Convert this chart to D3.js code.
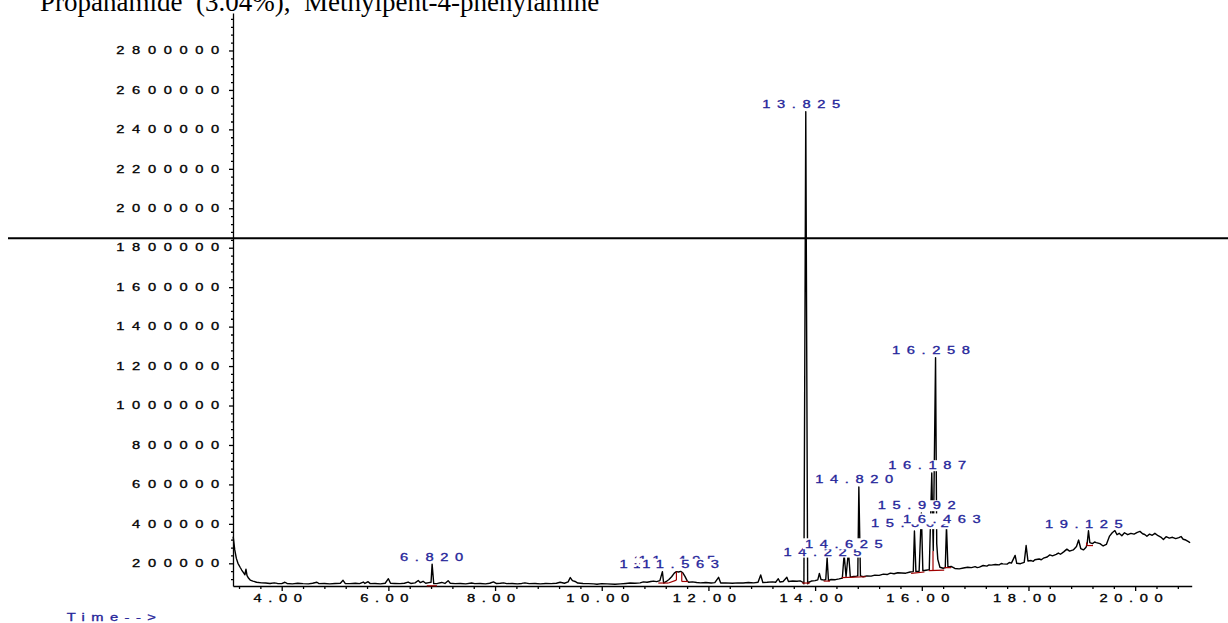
<!DOCTYPE html>
<html><head><meta charset="utf-8">
<script src="https://cdn.jsdelivr.net/npm/d3@7"></script>
<style>html,body{margin:0;padding:0;background:#fff;} svg{display:block}</style>
</head><body>
<svg id="c" width="1228" height="623"></svg>
<script>
// ---- data ----
const titleText = "Propanamide  (3.04%),  Methylpent-4-phenylamine";
const traceTime = [3.09,3.12,3.15,3.18,3.22,3.25,3.29,3.31,3.33,3.35,3.38,3.41,3.46,3.53,3.62,3.70,3.78,3.86,3.92,4.00,4.06,4.10,4.20,4.30,4.40,4.50,4.58,4.66,4.70,4.80,4.90,5.00,5.10,5.15,5.19,5.28,5.38,5.46,5.53,5.56,5.62,5.66,5.75,5.85,5.94,6.00,6.04,6.12,6.22,6.30,6.37,6.42,6.50,6.56,6.60,6.65,6.70,6.76,6.80,6.82,6.85,6.92,7.00,7.06,7.12,7.16,7.25,7.35,7.45,7.56,7.62,7.72,7.82,7.90,7.97,8.02,8.10,8.16,8.22,8.32,8.42,8.50,8.56,8.64,8.75,8.85,8.95,9.05,9.15,9.22,9.30,9.37,9.41,9.45,9.50,9.55,9.65,9.75,9.85,9.91,10.00,10.10,10.25,10.35,10.45,10.53,10.62,10.72,10.78,10.85,10.92,10.97,11.03,11.09,11.137,11.16,11.21,11.26,11.31,11.36,11.40,11.44,11.48,11.52,11.56,11.60,11.63,11.70,11.78,11.85,11.95,12.05,12.12,12.19,12.23,12.32,12.45,12.55,12.65,12.75,12.85,12.93,12.98,13.02,13.10,13.20,13.26,13.31,13.34,13.40,13.47,13.50,13.58,13.66,13.72,13.77,13.79,13.825,13.86,13.88,13.93,14.00,14.05,14.08,14.11,14.17,14.20,14.225,14.25,14.30,14.38,14.45,14.51,14.544,14.58,14.625,14.66,14.72,14.78,14.80,14.82,14.85,14.90,14.97,15.05,15.12,15.20,15.28,15.35,15.41,15.48,15.55,15.62,15.70,15.78,15.84,15.862,15.89,15.95,15.992,16.02,16.08,16.14,16.187,16.215,16.258,16.28,16.30,16.34,16.40,16.44,16.463,16.49,16.55,16.62,16.70,16.78,16.86,16.93,17.00,17.04,17.08,17.15,17.22,17.26,17.30,17.38,17.45,17.49,17.52,17.60,17.64,17.68,17.75,17.78,17.85,17.92,17.956,17.99,18.05,18.09,18.12,18.20,18.24,18.28,18.35,18.40,18.45,18.52,18.56,18.60,18.66,18.72,18.77,18.84,18.90,18.94,18.98,19.03,19.08,19.10,19.125,19.15,19.20,19.24,19.27,19.34,19.40,19.46,19.52,19.57,19.62,19.66,19.70,19.75,19.80,19.86,19.92,19.98,20.04,20.09,20.14,20.18,20.22,20.27,20.32,20.37,20.43,20.48,20.53,20.58,20.64,20.70,20.76,20.82,20.86,20.90,20.95,21.00,21.03];
const traceAbund = [335000,268000,225000,200000,180000,166000,150000,142000,170000,138000,124000,115000,110000,104000,101000,100000,98000,101000,98000,97000,104000,98000,96000,99000,97000,96000,99000,104000,97000,98000,96000,98000,99000,114000,98000,97000,99000,97000,105000,98000,107000,97000,98000,96000,99000,122000,99000,98000,97000,99000,105000,98000,101000,113000,102000,109000,99000,102000,104000,196000,97000,98000,103000,98000,112000,99000,97000,98000,96000,100000,97000,98000,96000,99000,106000,98000,99000,101000,97000,98000,96000,98000,101000,97000,98000,96000,98000,97000,99000,104000,99000,106000,128000,112000,108000,100000,98000,97000,96000,94000,97000,96000,94000,96000,98000,100000,99000,101000,106000,104000,108000,110000,107000,112000,158000,100000,108000,118000,132000,150000,158000,156000,159000,152000,134000,112000,104000,106000,103000,101000,103000,100000,102000,129000,100000,101000,99000,101000,100000,103000,101000,104000,141000,103000,104000,106000,104000,122000,105000,108000,129000,108000,110000,109000,111000,104000,96000,2490000,96000,104000,110000,112000,116000,149000,118000,115000,118000,228000,113000,118000,117000,121000,125000,245000,132000,262000,130000,133000,135000,137000,587000,136000,132000,136000,135000,140000,139000,145000,143000,150000,147000,152000,151000,150000,156000,158000,364000,158000,160000,455000,162000,165000,168000,658000,265000,1243000,300000,220000,180000,175000,178000,389000,180000,184000,174000,172000,176000,180000,178000,183000,178000,181000,189000,186000,192000,191000,194000,192000,199000,197000,196000,204000,201000,240000,200000,198000,205000,290000,212000,214000,210000,218000,222000,218000,226000,232000,243000,238000,245000,252000,246000,258000,272000,262000,268000,285000,318000,275000,268000,282000,300000,365000,305000,300000,308000,305000,300000,288000,296000,338000,355000,366000,345000,352000,340000,355000,345000,352000,348000,357000,362000,350000,346000,337000,348000,342000,352000,340000,333000,321000,335000,328000,332000,325000,330000,336000,322000,318000,310000,304000];

const yTickValues = [200000,400000,600000,800000,1000000,1200000,1400000,1600000,1800000,2000000,2200000,2400000,2600000,2800000];
const yTickLabels = ["200000","400000","600000","800000","1000000","1200000","1400000","1600000","1800000","2000000","2200000","2400000","2600000","2800000"];
const xTickValues = [4,6,8,10,12,14,16,18,20];
const xTickLabels = ["4.00","6.00","8.00","10.00","12.00","14.00","16.00","18.00","20.00"];

const peakTimes  = [6.820,11.137,11.405,11.495,11.563,13.825,14.225,14.625,14.820,15.862,15.992,16.187,16.258,16.463,19.125];
const peakApex   = [196000,158000,178000,180000,158000,2490000,220000,262000,587000,364000,455000,658000,1243000,388000,362000];
const peakLabels = ["6.820","11.137","11.405","11.495","11.563","13.825","14.225","14.625","14.820","15.862","15.992","16.187","16.258","16.463","19.125"];

const baseT1 = [6.72,11.06,11.25,11.40,11.50,11.50,13.76,14.16,14.50,15.80,16.13,16.21,16.42,19.09,19.09];
const baseV1 = [86000,100000,100000,115000,155000,108000,100000,110000,127000,149000,163000,163000,178000,290000,290000];
const baseT2 = [6.91,11.25,11.40,11.40,11.50,11.62,13.90,14.28,14.95,16.05,16.42,16.21,16.55,19.21,19.09];
const baseV2 = [86000,100000,115000,158000,108000,108000,100000,110000,132000,156000,165000,262000,178000,290000,305000];

// ---- drawing ----
const svg = d3.select("#c");
const x = d3.scaleLinear().domain([3.087, 21.06]).range([233, 1191.7]);
const y = d3.scaleLinear().domain([85000, 2990000]).range([586, 13]);
const BLUE = "#25259a";
const SX = 1.4;
const FS = 10.5;

function stretched(parent, str, ls, color) {
  const g = parent.append("g");
  const t = g.append("text").text(str)
    .attr("font-family", "'Liberation Sans', Arial, sans-serif")
    .attr("font-size", FS).attr("letter-spacing", ls).attr("fill", color)
    .attr("stroke", color).attr("stroke-width", 0.3);
  const len = t.node().getComputedTextLength();
  const w = (len - ls) * SX;
  return {g, w};
}
function place(o, left, baseline) {
  o.g.attr("transform", `translate(${left},${baseline}) scale(${SX},1)`);
}

// title
svg.append("text").attr("x", 40).attr("y", 10.5)
  .attr("font-family", "'Liberation Serif', 'Times New Roman', serif")
  .attr("font-size", 27).style("white-space", "pre").attr("fill", "#000")
  .text(titleText);

// horizontal rule
svg.append("line").attr("x1", 8).attr("x2", 1228).attr("y1", 238.3).attr("y2", 238.3)
  .attr("stroke", "#000").attr("stroke-width", 2);

// axes
const yMinor = d3.range(120000, 2990000, 40000).filter(v => v % 200000 !== 0);
const xMinor = d3.range(3.2, 21.0, 0.4).map(v => +v.toFixed(1)).filter(v => Math.abs(v/2 - Math.round(v/2)) > 1e-6);

const yAxisG = svg.append("g").attr("transform", "translate(233,0)");
yAxisG.call(d3.axisLeft(y).tickValues(yTickValues).tickSize(4).tickSizeOuter(0).tickFormat(""));
const yMinorG = svg.append("g").attr("transform", "translate(233,0)");
yMinorG.call(d3.axisLeft(y).tickValues(yMinor).tickSize(2).tickSizeOuter(0).tickFormat(""));
yMinorG.select(".domain").remove();

const xAxisG = svg.append("g").attr("transform", "translate(0,586)");
xAxisG.call(d3.axisBottom(x).tickValues(xTickValues).tickSize(5).tickSizeOuter(0).tickFormat(""));
const xMinorG = svg.append("g").attr("transform", "translate(0,586)");
xMinorG.call(d3.axisBottom(x).tickValues(xMinor).tickSize(3).tickSizeOuter(0).tickFormat(""));
xMinorG.select(".domain").remove();
svg.selectAll(".domain, .tick line").attr("stroke", "#000").attr("stroke-width", 1.3);

// y labels
yTickValues.forEach((v, i) => {
  const o = stretched(svg, yTickLabels[i], 5.45, "#000");
  place(o, 219.3 - o.w, y(v) + 3.75);
});
// x labels
xTickValues.forEach((v, i) => {
  const o = stretched(svg, xTickLabels[i], 4.7, "#000");
  place(o, x(v) - 4 - o.w / 2, 601.5);
});
// Time-->
place(stretched(svg, "Time-->", 4.6, BLUE), 66.7, 620.5);

// trace
const pts = traceTime.map((t, i) => [t, traceAbund[i]]);
svg.append("path").datum(pts)
  .attr("d", d3.line().x(d => x(d[0])).y(d => y(d[1])))
  .attr("fill", "none").attr("stroke", "#000").attr("stroke-width", 1.4)
  .attr("stroke-linejoin", "round");

// integration baselines
svg.append("g").selectAll("line").data(baseT1).join("line")
  .attr("x1", (d, i) => x(baseT1[i])).attr("y1", (d, i) => y(baseV1[i]))
  .attr("x2", (d, i) => x(baseT2[i])).attr("y2", (d, i) => y(baseV2[i]))
  .attr("stroke", "#a00000").attr("stroke-width", 1.2);

// peak labels with white boxes
const labG = svg.append("g");
peakTimes.forEach((t, i) => {
  const px = x(t), cy = y(peakApex[i]) - 7.3;
  const lg = labG.append("g");
  const rect = lg.append("rect").attr("fill", "#fff");
  const o = stretched(lg, peakLabels[i], 4.7, BLUE);
  const off = peakLabels[i].length >= 6 ? 4.6 : 0.5;
  const left = px - off - o.w / 2;
  place(o, left, cy + 3.75);
  rect.attr("x", left - 2).attr("y", cy - 5.5).attr("width", o.w + 4).attr("height", 11);
});
</script>
</body></html>
